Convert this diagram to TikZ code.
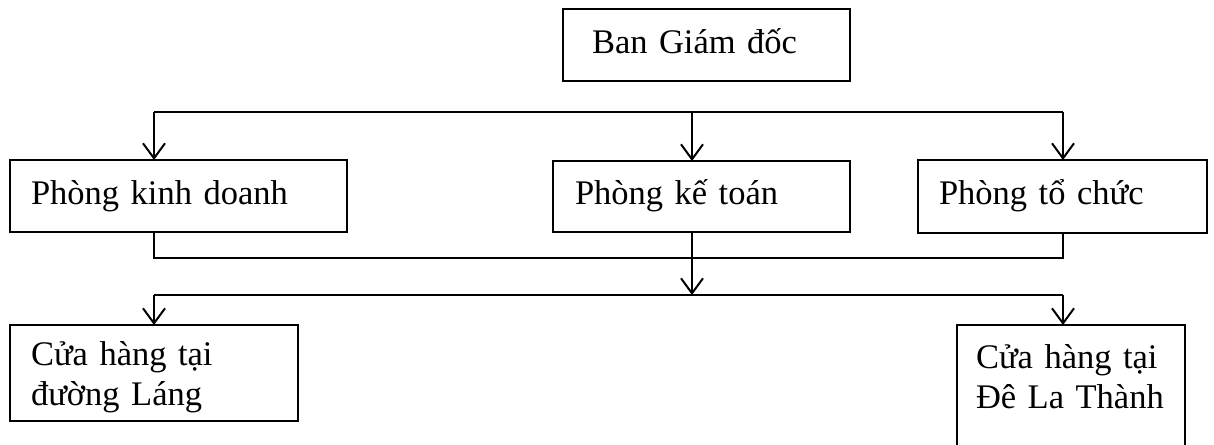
\documentclass[tikz,border=0pt]{standalone}
\usepackage{fontspec}
\setmainfont{Liberation Serif}
\usetikzlibrary{arrows.meta}
\usetikzlibrary{positioning}

\tikzset{
  boite/.style={draw, line width=2pt, anchor=north west, align=left,
    inner ysep=0pt, outer sep=0pt, font=\fontsize{34.5}{40}\selectfont},
  fleche/.style={line width=2pt, -{Straight Barb[length=15pt,width=22pt]}},
  trait/.style={line width=2pt}
}

\begin{document}
\begin{tikzpicture}[x=1pt,y=-1pt]
\useasboundingbox (0,0) rectangle (1214,444);
% boites
\node[boite, inner xsep=29pt, text width=229pt, text height=44pt, text depth=28pt] (ban) at (563,9) {Ban Giám đốc};
\node[boite, inner xsep=21pt, text width=295pt, text height=44pt, text depth=28pt] (kd) at (10,160) {Phòng kinh doanh};
\node[boite, inner xsep=22pt, text width=253pt, text height=43pt, text depth=28pt] (kt) at (553,161) {Phòng kế toán};
\node[boite, inner xsep=21pt, text width=247pt, text height=44pt, text depth=29pt] (tc) at (918,160) {Phòng tổ chức};
\node[boite, inner xsep=21pt, text width=246pt, text height=40pt, text depth=56pt] (lang) at (10,325) {Cửa hàng tại\\đường Láng};
\node[boite, inner xsep=19pt, text width=190pt, text height=43pt, text depth=140pt] (dlt) at (957,325) {Cửa hàng tại\\Đê La Thành};
% points de branchement
\coordinate (h1) at (154,112);
\coordinate (h2) at (692,112);
\coordinate (h3) at (1063,112);
\coordinate (m1) at (154,258);
\coordinate (m3) at (1063,258);
\coordinate (b1) at (154,295);
\coordinate (b2) at (692,295);
\coordinate (b3) at (1063,295);
% fleches
\draw[trait] (h1) -- (h3);
\foreach \c/\n in {h1/kd,h2/kt,h3/tc}
  \draw[fleche] (\c) -- (\c |- \n.north);
\draw[trait] (h1 |- kd.south) -- (m1) -- (m3) -- (h3 |- tc.south);
\draw[fleche] (h2 |- kt.south) -- (b2);
\draw[trait] (b1) -- (b3);
\draw[fleche] (b1) -- (b1 |- lang.north);
\draw[fleche] (b3) -- (b3 |- dlt.north);
\end{tikzpicture}
\end{document}
